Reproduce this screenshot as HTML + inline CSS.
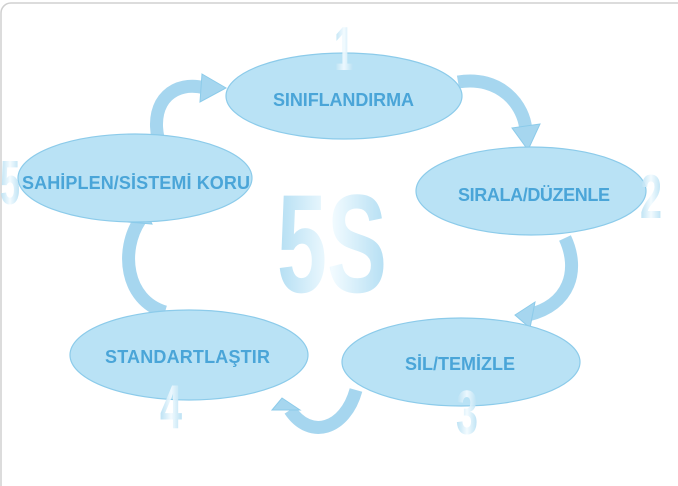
<!DOCTYPE html>
<html><head><meta charset="utf-8"><style>
html,body{margin:0;padding:0;background:#fff;width:678px;height:486px;overflow:hidden}
</style></head><body>
<svg width="678" height="486" viewBox="0 0 678 486" xmlns="http://www.w3.org/2000/svg" font-family="Liberation Sans, sans-serif">
<defs>
<linearGradient id="g" x1="0" y1="0" x2="1" y2="0">
<stop offset="0" stop-color="#b3def3"/><stop offset="0.5" stop-color="#f2fbff"/><stop offset="1" stop-color="#b3def3"/>
</linearGradient>
</defs>
<rect x="1" y="3" width="690" height="500" rx="10" fill="none" stroke="#d0d0d0" stroke-width="1.5"/>
<text x="277" y="292" font-size="140" font-weight="bold" fill="url(#g)" textLength="110" lengthAdjust="spacingAndGlyphs">5S</text>
<g fill="none" stroke="#a6d6ef" stroke-width="13" stroke-linecap="butt">
<path d="M458 82 C500 75 525 105 526 132"/>
<path d="M565 238 C580 270 570 305 528 315"/>
<path d="M356 390 C345 430 310 440 290 410"/>
<path d="M165 312 C125 300 120 250 140 220"/>
<path d="M158 138 C150 100 175 80 205 88"/>
</g>
<g fill="#a6d6ef" stroke="#8ccbea" stroke-width="1">
<polygon points="512,128 540,124 528,150"/>
<polygon points="535,302 530,328 515,315"/>
<polygon points="282,398 300,410 272,410"/>
<polygon points="128,222 152,224 142,205"/>
<polygon points="202,74 226,88 200,102"/>
</g>
<g fill="#b9e2f5" stroke="#8ccbea" stroke-width="1.2">
<ellipse cx="344" cy="96" rx="118" ry="43"/>
<ellipse cx="531" cy="191" rx="115" ry="44"/>
<ellipse cx="461" cy="362" rx="119" ry="44"/>
<ellipse cx="189" cy="355" rx="119" ry="45"/>
<ellipse cx="135" cy="178" rx="117" ry="44"/>
</g>
<g font-size="62" font-weight="bold" fill="url(#g)" opacity="0.9">
<text x="334" y="70" textLength="20" lengthAdjust="spacingAndGlyphs">1</text>
<text x="640" y="218" textLength="22" lengthAdjust="spacingAndGlyphs">2</text>
<text x="456" y="434" textLength="22" lengthAdjust="spacingAndGlyphs">3</text>
<text x="160" y="428" textLength="22" lengthAdjust="spacingAndGlyphs">4</text>
<text x="0" y="204" textLength="20" lengthAdjust="spacingAndGlyphs">5</text>
</g>
<g font-size="18" font-weight="bold" fill="#4aa5d8" lengthAdjust="spacingAndGlyphs">
<text x="273" y="106" textLength="141">SINIFLANDIRMA</text>
<text x="458" y="201" textLength="152">SIRALA/DÜZENLE</text>
<text x="405" y="370" textLength="110">SİL/TEMİZLE</text>
<text x="105" y="363" textLength="165">STANDARTLAŞTIR</text>
<text x="22" y="189" textLength="228">SAHİPLEN/SİSTEMİ KORU</text>
</g>
</svg>
</body></html>
